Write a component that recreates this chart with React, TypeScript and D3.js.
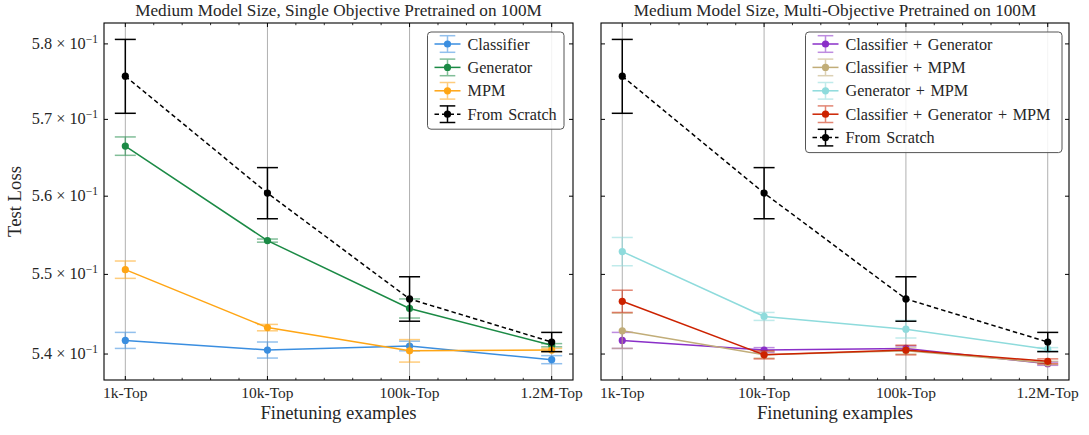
import React from 'react';
import * as d3 from 'd3';

const xLabels = ['1k-Top', '10k-Top', '100k-Top', '1.2M-Top'];
const yTicks = [0.54, 0.55, 0.56, 0.57, 0.58];

const scratchMean = [0.5757, 0.5604, 0.5469, 0.5415];
const scratchErr = [0.0049, 0.0033, 0.0028, 0.0012];

const clsMean = [0.5417, 0.5405, 0.541, 0.5393];
const clsErr = [0.001, 0.001, 0.0006, 0.0005];
const genMean = [0.5665, 0.5543, 0.5457, 0.5411];
const genErr = [0.0012, 0.0002, 0.0012, 0.0002];
const mpmMean = [0.5506, 0.5433, 0.5404, 0.5405];
const mpmErr = [0.0011, 0.0004, 0.0014, 0.0002];

const cgMean = [0.5417, 0.5405, 0.5407, 0.5388];
const cgErr = [0.001, 0.0003, 0.0003, 0.0002];
const cmMean = [0.5429, 0.5399, 0.5404, 0.5389];
const cmErr = [0.0022, 0.0004, 0.0004, 0.0002];
const gmMean = [0.5529, 0.5447, 0.5431, 0.5406];
const gmErr = [0.0018, 0.0005, 0.0011, 0.0002];
const cgmMean = [0.5466, 0.5399, 0.5405, 0.5391];
const cgmErr = [0.0014, 0.0005, 0.0006, 0.0003];

interface Series {
  name: string;
  color: string;
  mean: number[];
  err: number[];
  dashed?: boolean;
}

const scratch: Series = { name: 'From Scratch', color: '#000000', mean: scratchMean, err: scratchErr, dashed: true };

const leftSeries: Series[] = [
  { name: 'Classifier', color: '#3a8ee0', mean: clsMean, err: clsErr },
  { name: 'Generator', color: '#1b8a45', mean: genMean, err: genErr },
  { name: 'MPM', color: '#ffa514', mean: mpmMean, err: mpmErr },
  scratch,
];

const rightSeries: Series[] = [
  { name: 'Classifier + Generator', color: '#8a2fc8', mean: cgMean, err: cgErr },
  { name: 'Classifier + MPM', color: '#c1ad78', mean: cmMean, err: cmErr },
  { name: 'Generator + MPM', color: '#8edbdc', mean: gmMean, err: gmErr },
  { name: 'Classifier + Generator + MPM', color: '#cc2200', mean: cgmMean, err: cgmErr },
  scratch,
];

const FONT = 'Liberation Serif, Times New Roman, DejaVu Serif, serif';
const TEXT = '#262626';
const top = 23;
const bottom = 380;

const y = d3.scaleLog().domain([0.53678, 0.5828]).range([bottom, top]);

function T(props: any) {
  const { size, children, ...rest } = props;
  return (
    <text {...rest} fill={TEXT} style={{ fontFamily: FONT, fontSize: size }}>{children}</text>
  );
}

function Panel({ left, right, title, series, showY, legend }: {
  left: number; right: number; title: string; series: Series[]; showY: boolean;
  legend: { x: number; y: number; w: number };
}) {
  const x = d3.scaleLinear().domain([-0.15, 3.15]).range([left, right]);
  const idx = d3.range(xLabels.length);
  const minor = d3.range(1, 16).map(i => i * 0.2).filter(v => Math.abs(v - Math.round(v)) > 1e-6);
  const line = d3.line<number>().x((_, i) => x(i)).y(v => y(v));
  const cap = 10.5;
  const rowH = 23.4;
  const lh = 12 + rowH * (series.length - 1) + 15;

  return (
    <g>
      {/* grid */}
      {idx.map(i => (
        <line key={'g' + i} x1={x(i)} x2={x(i)} y1={top} y2={bottom} stroke="#b0b0b0" strokeWidth={1} />
      ))}
      {/* series */}
      {series.map(s => {
        const errOp = s.dashed ? 1 : 0.55;
        return (
          <g key={s.name}>
            {s.mean.map((m, i) => (
              <g key={i} stroke={s.color} strokeWidth={1.5} opacity={errOp}>
                <line x1={x(i)} x2={x(i)} y1={y(m + s.err[i])} y2={y(m - s.err[i])} />
                <line x1={x(i) - cap} x2={x(i) + cap} y1={y(m + s.err[i])} y2={y(m + s.err[i])} />
                <line x1={x(i) - cap} x2={x(i) + cap} y1={y(m - s.err[i])} y2={y(m - s.err[i])} />
              </g>
            ))}
            <path d={line(s.mean) || ''} fill="none" stroke={s.color} strokeWidth={1.5}
              strokeDasharray={s.dashed ? '4.5,3' : undefined} />
            {s.mean.map((m, i) => (
              <circle key={'c' + i} cx={x(i)} cy={y(m)} r={3.6} fill={s.color} />
            ))}
          </g>
        );
      })}
      {/* frame */}
      <rect x={left} y={top} width={right - left} height={bottom - top} fill="none" stroke="#000" strokeWidth={1.1} />
      {/* x ticks */}
      {idx.map(i => (
        <g key={'xt' + i}>
          <line x1={x(i)} x2={x(i)} y1={bottom} y2={bottom - 4} stroke="#000" />
          <line x1={x(i)} x2={x(i)} y1={top} y2={top + 4} stroke="#000" />
          <T x={x(i)} y={398} textAnchor="middle" size={15.5}>{xLabels[i]}</T>
        </g>
      ))}
      {minor.map(v => (
        <g key={'mt' + v}>
          <line x1={x(v)} x2={x(v)} y1={bottom} y2={bottom - 2.2} stroke="#000" strokeWidth={0.8} />
          <line x1={x(v)} x2={x(v)} y1={top} y2={top + 2.2} stroke="#000" strokeWidth={0.8} />
        </g>
      ))}
      {/* y ticks */}
      {yTicks.map(t => (
        <g key={'yt' + t}>
          <line x1={left} x2={left + 4} y1={y(t)} y2={y(t)} stroke="#000" />
          <line x1={right} x2={right - 4} y1={y(t)} y2={y(t)} stroke="#000" />
          {showY && (
            <T x={left - 6} y={y(t) + 5} textAnchor="end" size={16.3}>
              {(t * 10).toFixed(1)} × 10<tspan dy={-6} style={{ fontSize: 11.5 }}>−1</tspan>
            </T>
          )}
        </g>
      ))}
      <T x={(left + right) / 2} y={16} textAnchor="middle" size={17.2}>{title}</T>
      <T x={(left + right) / 2} y={419} textAnchor="middle" size={18.7}>Finetuning examples</T>
      {showY && (
        <T transform={`translate(21,${(top + bottom) / 2}) rotate(-90)`} textAnchor="middle" size={18.7}>Test Loss</T>
      )}
      {/* legend */}
      <g transform={`translate(${legend.x},${legend.y})`}>
        <rect x={0} y={0} width={legend.w} height={lh} rx={3.5} fill="#fff" fillOpacity={0.85} stroke="#555" strokeWidth={1} />
        {series.map((s, i) => {
          const cy = 12 + i * rowH;
          const hx = 20;
          const op = s.dashed ? 1 : 0.55;
          return (
            <g key={'l' + s.name}>
              <line x1={7} x2={33} y1={cy} y2={cy} stroke={s.color} strokeWidth={1.5}
                strokeDasharray={s.dashed ? '4.5,3' : undefined} />
              <g stroke={s.color} strokeWidth={1.5} opacity={op}>
                <line x1={hx} x2={hx} y1={cy - 8.3} y2={cy + 8.3} />
                <line x1={hx - 7.8} x2={hx + 7.8} y1={cy - 8.3} y2={cy - 8.3} />
                <line x1={hx - 7.8} x2={hx + 7.8} y1={cy + 8.3} y2={cy + 8.3} />
              </g>
              <circle cx={hx} cy={cy} r={3.6} fill={s.color} />
              <T x={40} y={cy + 5.5} size={16.2} style={undefined} wordSpacing={1.5}>{s.name}</T>
            </g>
          );
        })}
      </g>
    </g>
  );
}

export default function App() {
  return (
    <svg width={1089} height={435} style={{ position: 'absolute', left: 0, top: 0, background: '#fff' }}>
      <rect width={1089} height={435} fill="#fff" />
      <Panel left={104} right={573} title="Medium Model Size, Single Objective Pretrained on 100M"
        series={leftSeries} showY={true} legend={{ x: 427.5, y: 32, w: 136.5 }} />
      <Panel left={601} right={1069} title="Medium Model Size, Multi-Objective Pretrained on 100M"
        series={rightSeries} showY={false} legend={{ x: 805.5, y: 32, w: 256.5 }} />
    </svg>
  );
}
